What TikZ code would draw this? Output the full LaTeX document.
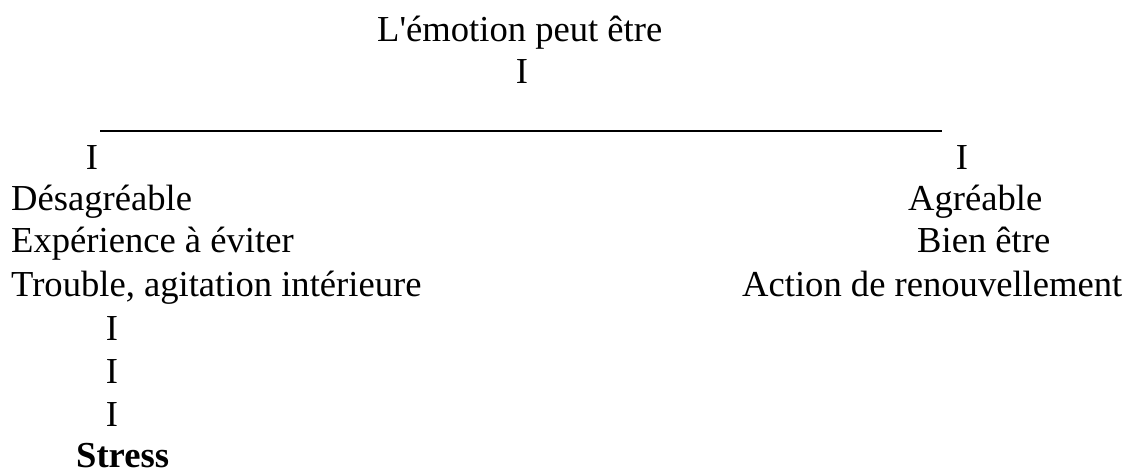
\documentclass[tikz,border=0pt]{standalone}
\usepackage{fontspec}
\setmainfont{Liberation Serif}
\tikzset{
  txt/.style={inner sep=0pt, anchor=base west, font=\fontsize{36.6}{42}\selectfont},
  bar/.style={txt, anchor=base},
}
\begin{document}
\begin{tikzpicture}[x=1pt,y=-1pt]
  \useasboundingbox (0,0) rectangle (1138,473);

  \node[txt] (titre) at (377,42) {L\textquotesingle émotion peut être};
  \node[bar] (barH) at (522,84) {I};

  % trait horizontal
  \coordinate (trG) at (100,131);
  \coordinate (trD) at (942,131);
  \draw[line width=2pt] (trG) -- (trD);

  \node[bar] (barG) at (92,170) {I};
  \node[bar] (barD) at (962,170) {I};

  % colonne gauche
  \node[txt] (desag) at (11,211) {Désagréable};
  \node[txt] (exper) at (11,253) {Expérience à éviter};
  \node[txt] (troub) at (11,296) {Trouble, agitation intérieure};

  % colonne droite
  \node[txt] (agre)  at (908,211) {Agréable};
  \node[txt] (bien)  at (917,253) {Bien être};
  \node[txt] (renou) at (742,296) {Action de renouvellement};

  \node[bar] (barA) at (112,340) {I};
  \node[bar] (barB) at (112,383) {I};
  \node[bar] (barC) at (112,426) {I};
  \node[txt, font=\fontsize{36.6}{42}\selectfont\bfseries] (stress) at (76,467) {Stress};
\end{tikzpicture}
\end{document}
